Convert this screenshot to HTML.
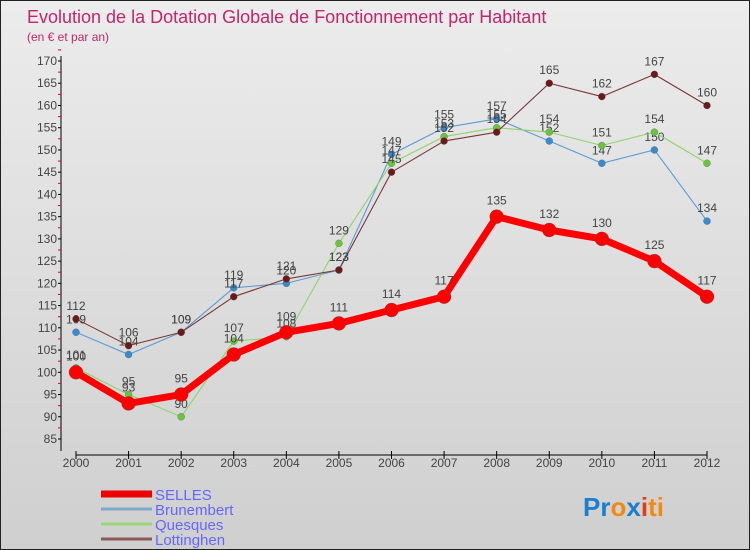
<!DOCTYPE html>
<html><head><meta charset="utf-8"><style>
body{margin:0;}
#c{width:750px;height:550px;position:relative;background:linear-gradient(#ececec,#cfcfcf);border:1px solid #222;box-sizing:border-box;font-family:"Liberation Sans",sans-serif;overflow:hidden}
</style></head><body>
<div id="c">
<svg id="s" width="750" height="550" style="position:absolute;left:0;top:0"></svg>
</div>
<script>
const years=[2000,2001,2002,2003,2004,2005,2006,2007,2008,2009,2010,2011,2012];
const selles=[100,93,95,104,109,111,114,117,135,132,130,125,117];
const brunembert=[109,104,109,119,120,123,149,155,157,152,147,150,134];
const quesques=[101,95,90,107,108,129,147,153,155,154,151,154,147];
const lottinghen=[112,106,109,117,121,123,145,152,154,165,162,167,160];
const yTicks=[85,90,95,100,105,110,115,120,125,130,135,140,145,150,155,160,165,170];
const NS="http://www.w3.org/2000/svg";
const s=document.getElementById('s');
const X=i=>75+i*(706-75)/(years.length-1);
const Y=v=>438-(v-85)*(438-60)/(170-85);
function el(t,a,p){const e=document.createElementNS(NS,t);for(const k in a)e.setAttribute(k,a[k]);(p||s).appendChild(e);return e;}
function tx(x,y,str,a){const e=el('text',Object.assign({x:x,y:y,'font-size':12,fill:'#333'},a||{}));e.textContent=str;return e;}
let t=tx(26,22,'Evolution de la Dotation Globale de Fonctionnement par Habitant',{'font-size':18,fill:'#c0266d'});


t=tx(26,40,'(en € et par an)',{'font-size':12,fill:'#c0266d'});


let ax=el('line',{x1:60,y1:55,x2:60,y2:450,stroke:'#000','stroke-width':1});


yTicks.forEach(v=>{
  el('line',{x1:57,x2:60,y1:Y(v),y2:Y(v),stroke:'#000'});
  el('line',{x1:57,x2:60,y1:Y(v+2.5),y2:Y(v+2.5),stroke:'#e00'});
  const l=tx(56,Y(v)+4,String(v),{'text-anchor':'end','font-size':12,fill:'#444'});
  
  
});
let xa=el('line',{x1:75,y1:454,x2:706,y2:454,stroke:'#000'});


years.forEach((y,i)=>{
  el('line',{x1:X(i),x2:X(i),y1:450,y2:458,stroke:'#000'});
  const l=tx(X(i),466,String(y),{'text-anchor':'middle','font-size':12,fill:'#444'});
  
  
});
function series(name,data,color,w,r,dot,off){
  const g=el('g',{});
  
  
  const p=el('polyline',{points:data.map((v,i)=>X(i)+','+Y(v)).join(' '),fill:'none',stroke:color,'stroke-width':w,'stroke-linejoin':'round'},g);
  
  
  data.forEach((v,i)=>{
    const c=el('circle',{cx:X(i),cy:Y(v),r:r,fill:dot,stroke:'#555','stroke-width':0.3},g);
    
    
    const l=tx(X(i),Y(v)-off,String(v),{'text-anchor':'middle','font-size':12,fill:'#444'});
    g.appendChild(l);
    
    
  });
}
series('brunembert',brunembert,'#5b9bd5',1.1,3.5,'#3a8ad0',9);
series('quesques',quesques,'#8fd46a',1.1,3.5,'#6cc43c',9);
series('lottinghen',lottinghen,'#7a3535',1.1,3.5,'#6b1a1a',9);
series('selles',selles,'#f00',7,7,'#f00',12);
const leg=[['SELLES','#e00',7],['Brunembert','#7fa8c8',3],['Quesques','#9ad77a',3],['Lottinghen','#8b5a5a',3]];
leg.forEach((L,i)=>{
  const y=493+i*15;
  const g=el('g',{});
  
  
  el('line',{x1:100,x2:151,y1:y,y2:y,stroke:L[1],'stroke-width':L[2]},g);
  const l=tx(154,y+6,L[0],{'font-size':15,fill:'#6666ff'});g.appendChild(l);
});
const lg=tx(582,515,'',{'font-size':26,'font-weight':'bold'});


[['Pr','#1a7fd0'],['o','#f08a10'],['x','#1a7fd0'],['i','#e04010'],['ti','#f08a10']].forEach(p=>{const t=el('tspan',{fill:p[1]},lg);t.textContent=p[0];});
</script>
</body></html>
